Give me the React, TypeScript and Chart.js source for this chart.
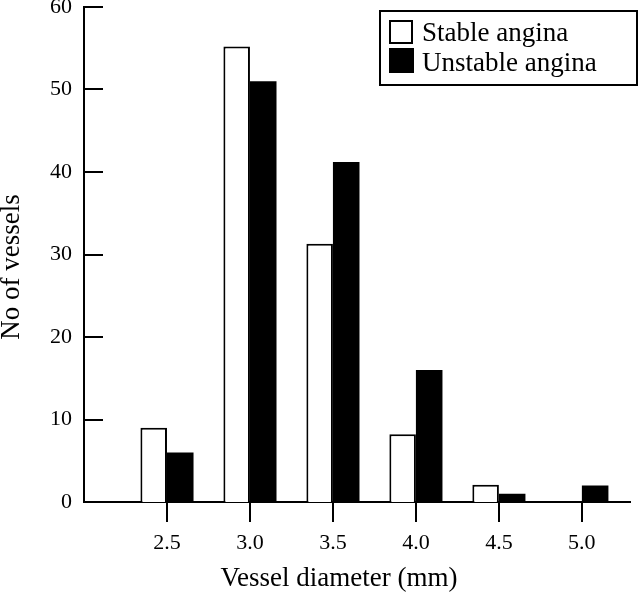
import React, { useEffect, useRef } from "react";
import { Chart, registerables } from "chart.js";

Chart.register(...registerables);

const categories = [2.5, 3.0, 3.5, 4.0, 4.5, 5.0];
const stableValues = [9, 55.2, 31.3, 8.2, 2.1, 0];
const unstableValues = [6, 51, 41.2, 16, 1, 2];
const yTicks = [0, 10, 20, 30, 40, 50, 60];
const seriesNames = ["Stable angina", "Unstable angina"];
const xTitle = "Vessel diameter (mm)";
const yTitle = "No of vessels";

const FONT = '"Liberation Serif", "Times New Roman", serif';

const decorPlugin = {
  id: "decor",
  afterDraw(chart: any) {
    const ctx = chart.ctx;
    const y = chart.scales.y;
    const area = chart.chartArea;
    ctx.save();
    // inward y ticks
    ctx.strokeStyle = "#000";
    ctx.lineWidth = 2;
    y.ticks.forEach((t: any) => {
      const py = Math.round(y.getPixelForValue(t.value));
      ctx.beginPath();
      ctx.moveTo(area.left, py);
      ctx.lineTo(area.left + 19, py);
      ctx.stroke();
    });
    // titles
    ctx.fillStyle = "#000";
    ctx.font = `27px ${FONT}`;
    ctx.textAlign = "center";
    ctx.textBaseline = "alphabetic";
    ctx.fillText(xTitle, 339, 586);
    ctx.save();
    ctx.translate(19, 267);
    ctx.rotate(-Math.PI / 2);
    ctx.fillText(yTitle, 0, 0);
    ctx.restore();
    // legend
    ctx.lineWidth = 2;
    ctx.strokeRect(380, 11, 257, 74);
    ctx.fillStyle = "#fff";
    ctx.fillRect(390, 21, 22, 22);
    ctx.strokeRect(390, 21, 22, 22);
    ctx.fillStyle = "#000";
    ctx.fillRect(389, 48, 25, 25);
    ctx.textAlign = "left";
    ctx.font = `27px ${FONT}`;
    ctx.fillText(seriesNames[0], 422, 41);
    ctx.fillText(seriesNames[1], 422, 71);
    ctx.restore();
  },
};

export default function App() {
  const ref = useRef<HTMLCanvasElement | null>(null);
  useEffect(() => {
    if (!ref.current) return;
    const chart = new Chart(ref.current, {
      type: "bar",
      data: {
        datasets: [
          {
            label: seriesNames[0],
            data: categories.map((c, i) => ({ x: c, y: stableValues[i] })),
            backgroundColor: "#fff",
            borderColor: "#000",
            borderWidth: 2,
            categoryPercentage: 0.64,
            barPercentage: 1,
          },
          {
            label: seriesNames[1],
            data: categories.map((c, i) => ({ x: c, y: unstableValues[i] })),
            backgroundColor: "#000",
            borderColor: "#000",
            borderWidth: 0,
            categoryPercentage: 0.64,
            barPercentage: 1,
          },
        ],
      } as any,
      options: {
        responsive: false,
        animation: false,
        layout: { padding: { top: 7, right: 10, left: 0, bottom: 0 } },
        plugins: { legend: { display: false }, tooltip: { enabled: false } },
        scales: {
          x: {
            type: "linear",
            min: 2.0,
            max: 5.29,
            offset: false,
            afterBuildTicks: (s: any) => {
              s.ticks = categories.map((v) => ({ value: v }));
            },
            afterFit: (s: any) => {
              s.height = 91;
              s.paddingLeft = 0;
              s.paddingRight = 0;
            },
            ticks: {
              callback: (v: any) => Number(v).toFixed(1),
              color: "#000",
              font: { family: FONT, size: 22 },
              padding: 8,
              maxRotation: 0,
            },
            grid: {
              offset: false,
              drawOnChartArea: false,
              drawTicks: true,
              tickLength: 20,
              color: "#000",
              lineWidth: 2,
            },
            border: { display: true, color: "#000", width: 2 },
          },
          y: {
            min: 0,
            max: 60,
            afterBuildTicks: (s: any) => {
              s.ticks = yTicks.map((v) => ({ value: v }));
            },
            afterFit: (s: any) => {
              s.width = 84;
              s.paddingTop = 0;
              s.paddingBottom = 0;
            },
            ticks: {
              color: "#000",
              font: { family: FONT, size: 22 },
              padding: 12,
            },
            grid: { display: false, drawTicks: false },
            border: { display: true, color: "#000", width: 2 },
          },
        },
      } as any,
      plugins: [decorPlugin],
    });
    return () => chart.destroy();
  }, []);
  return (
    <div style={{ position: "fixed", left: 0, top: 0, width: 640, height: 593, background: "#fff" }}>
      <canvas ref={ref} width={640} height={593} style={{ display: "block" }} />
    </div>
  );
}
